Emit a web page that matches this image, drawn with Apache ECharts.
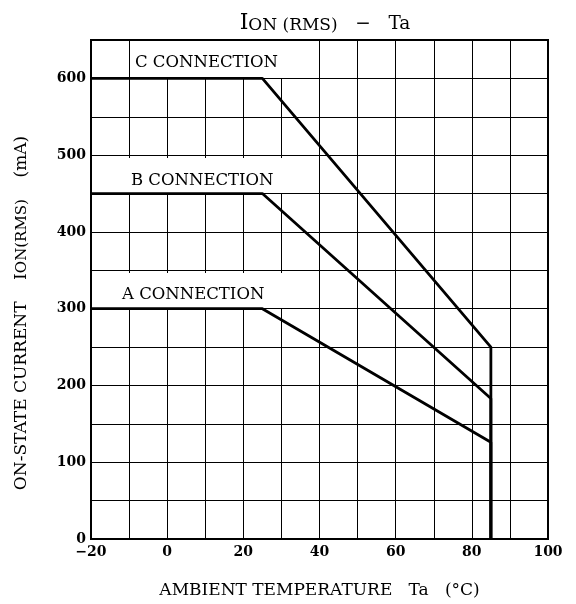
<!DOCTYPE html>
<html><head><meta charset="utf-8">
<script src="https://cdn.jsdelivr.net/npm/echarts@6/dist/echarts.min.js"></script>
<style>html,body{margin:0;padding:0;background:#fff}#c{width:576px;height:604px}</style>
</head><body><div id="c"></div>
<script>
const temperature = [-20, 25, 85, 85];
const currentC = [600, 600, 250, 0];
const currentB = [450, 450, 183, 0];
const currentA = [300, 300, 126, 0];
const seriesNames = ['C CONNECTION', 'B CONNECTION', 'A CONNECTION'];
const xTicks = [-20, 0, 20, 40, 60, 80, 100];
const yTicks = [0, 100, 200, 300, 400, 500, 600];

const F = 'DejaVu Serif';
const chart = echarts.init(document.getElementById('c'), null, {renderer: 'canvas'});
const pairs = arr => temperature.map((t, i) => [t, arr[i]]);
const lineStyle = {color: '#000', width: 2.8};
const lab = '16.5px "DejaVu Serif"';

chart.setOption({
  backgroundColor: '#fff',
  animation: false,
  title: {
    text: '{i|I}{s|ON (RMS)}{n|   −   Ta}',
    left: 320, textAlign: 'center', top: 5,
    textStyle: {
      rich: {
        i: {fontFamily: F, fontSize: 22, fontWeight: 'normal', color: '#000', verticalAlign: 'bottom', lineHeight: 24},
        s: {fontFamily: F, fontSize: 17, fontWeight: 'normal', color: '#000', verticalAlign: 'bottom', lineHeight: 20},
        n: {fontFamily: F, fontSize: 18.5, fontWeight: 'normal', color: '#000', verticalAlign: 'bottom', lineHeight: 24}
      }
    }
  },
  grid: {left: 91, right: 28, top: 40, bottom: 64, show: true, borderColor: '#000', borderWidth: 2, backgroundColor: 'transparent'},
  xAxis: {
    type: 'value', min: -20, max: 100, interval: 10,
    axisLine: {show: true, onZero: false, lineStyle: {color: '#000', width: 2}},
    axisTick: {show: false},
    splitLine: {show: true, lineStyle: {color: '#000', width: 1}},
    axisLabel: {
      fontFamily: F, fontSize: 14, fontWeight: 'bold', color: '#000', margin: 6,
      formatter: v => xTicks.includes(v) ? (v < 0 ? '−' + Math.abs(v) : String(v)) : ''
    },
    name: 'AMBIENT TEMPERATURE   Ta   (°C)', nameLocation: 'middle', nameGap: 43,
    nameTextStyle: {fontFamily: F, fontSize: 17, color: '#000'}
  },
  yAxis: {
    type: 'value', min: 0, max: 650, interval: 50,
    axisLine: {show: true, onZero: false, lineStyle: {color: '#000', width: 2}},
    axisTick: {show: false},
    splitLine: {show: true, lineStyle: {color: '#000', width: 1}},
    axisLabel: {
      fontFamily: F, fontSize: 14, fontWeight: 'bold', color: '#000', margin: 5,
      formatter: v => yTicks.includes(v) ? String(v) : ''
    }
  },
  graphic: [
    {type: 'rect', shape: {x: 130, y: 41, width: 153, height: 37}, style: {fill: '#fff'}, z: 10},
    {type: 'rect', shape: {x: 92, y: 158, width: 193, height: 35}, style: {fill: '#fff'}, z: 10},
    {type: 'rect', shape: {x: 92, y: 273, width: 191, height: 35}, style: {fill: '#fff'}, z: 10},
    {type: 'text', left: 135, top: 54, z: 11, style: {text: seriesNames[0], font: lab, fill: '#000'}},
    {type: 'text', left: 131, top: 172, z: 11, style: {text: seriesNames[1], font: lab, fill: '#000'}},
    {type: 'text', left: 122, top: 286, z: 11, style: {text: seriesNames[2], font: lab, fill: '#000'}},
    {type: 'text', x: 20, y: 313, rotation: Math.PI / 2, z: 11,
     style: {text: '{a|ON-STATE CURRENT    I}{b|ON(RMS)}{a|    (mA)}', align: 'center', verticalAlign: 'middle',
       rich: {a: {fontFamily: F, fontSize: 17, color: '#000', verticalAlign: 'bottom', lineHeight: 20},
              b: {fontFamily: F, fontSize: 15, color: '#000', verticalAlign: 'bottom', lineHeight: 16}}}}
  ],
  series: [
    {name: seriesNames[0], type: 'line', data: pairs(currentC), symbol: 'none', lineStyle, z: 20},
    {name: seriesNames[1], type: 'line', data: pairs(currentB), symbol: 'none', lineStyle, z: 20},
    {name: seriesNames[2], type: 'line', data: pairs(currentA), symbol: 'none', lineStyle, z: 20}
  ]
});
</script></body></html>
